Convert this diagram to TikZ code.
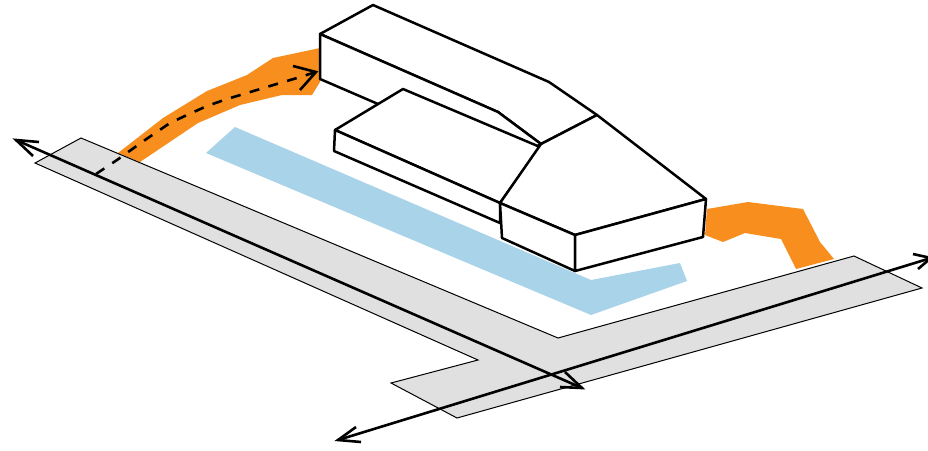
\documentclass[tikz,border=0pt]{standalone}
\definecolor{pathorange}{HTML}{F78E1E}
\definecolor{waterblue}{HTML}{A9D3E8}
\definecolor{roadgray}{HTML}{E0E0E0}
\tikzset{
  roadshape/.style={fill=roadgray,draw=black,line width=1pt,line join=miter},
  pathshape/.style={fill=pathorange,draw=none},
  watershape/.style={fill=waterblue,draw=none},
  mass/.style={fill=white,draw=black,line width=2.5pt,line join=round},
  roadarrow/.style={draw=black,line width=2.6pt},
  walkarrow/.style={draw=black,line width=2.6pt,dash pattern=on 10pt off 9.5pt,line join=round},
  barbhead/.style={draw=black,line width=2.6pt,line cap=butt,line join=miter}
}
\begin{document}
\begin{tikzpicture}[x=1pt,y=-1pt]
\useasboundingbox (0,0) rectangle (928,450);
\clip (0,0) rectangle (928,450);
% path left and right
\fill[pathshape] (118,153) -- (163,118) -- (207,91) -- (247,75) -- (273,58) -- (320,48) -- (320,82) -- (312,95) -- (282,95) -- (240,105) -- (198,123) -- (140,162) -- cycle;
\fill[pathshape] (707,209) -- (748,202) -- (803,209) -- (820,242) -- (834,259) -- (796,269) -- (781,239) -- (745,233) -- (723,242) -- (705,235) -- cycle;
% road
\draw[roadshape] (81,138) -- (558,338) -- (854,256) -- (922,288) -- (457,418) -- (391,383) -- (478,360) -- (35,163) -- cycle;
% water
\fill[watershape] (235,127) -- (591,280) -- (680,263) -- (687,281) -- (591,315) -- (206,153) -- cycle;
% long rear volume
\draw[mass] (320,34) -- (373,5) -- (549,82) -- (597,115) -- (541,144) -- (498,112) -- cycle;
\draw[mass] (320,34) -- (320,79) -- (378,104) -- (498,170) -- (541,144) -- (498,112) -- cycle;
% low wing
\draw[mass] (335,130) -- (403,89) -- (540,147) -- (500,203) -- cycle;
\draw[mass] (335,130) -- (334,151) -- (500,223) -- (500,203) -- cycle;
% head volume
\draw[mass] (541,144) -- (597,115) -- (706,199) -- (575,235) -- (500,203) -- cycle;
\draw[mass] (500,203) -- (502,238) -- (575,271) -- (575,235) -- cycle;
\draw[mass] (575,235) -- (706,199) -- (703,237) -- (575,271) -- cycle;
% road axes with open heads
\coordinate (roadAstart) at (16,140);
\coordinate (roadAend) at (582,388);
\coordinate (roadBstart) at (338,440);
\coordinate (roadBend) at (931,258);
\draw[roadarrow] (roadAstart) -- (roadAend);
\draw[roadarrow] (roadBstart) -- (roadBend);
\draw[barbhead] (39,142) -- (roadAstart) -- (33,156);
\draw[barbhead] (565,372) -- (roadAend) -- (560,387);
\draw[barbhead] (356,427) -- (roadBstart) -- (361,442);
\draw[barbhead] (913,254) -- (roadBend) -- (918,269);
% walking route
\coordinate (walkstart) at (96,174);
\coordinate (walkend) at (316,72);
\draw[walkarrow] (walkstart) -- (117,160) -- (145,140) -- (170,123) -- (187,115) -- (207,106) -- (227,99) -- (247,93) -- (270,86) -- (297,78) -- (walkend);
\coordinate (walkbarbA) at (293,66);
\coordinate (walkbarbB) at (300,90);
\draw[barbhead] (walkbarbA) -- (walkend) -- (walkbarbB);
\end{tikzpicture}
\end{document}
